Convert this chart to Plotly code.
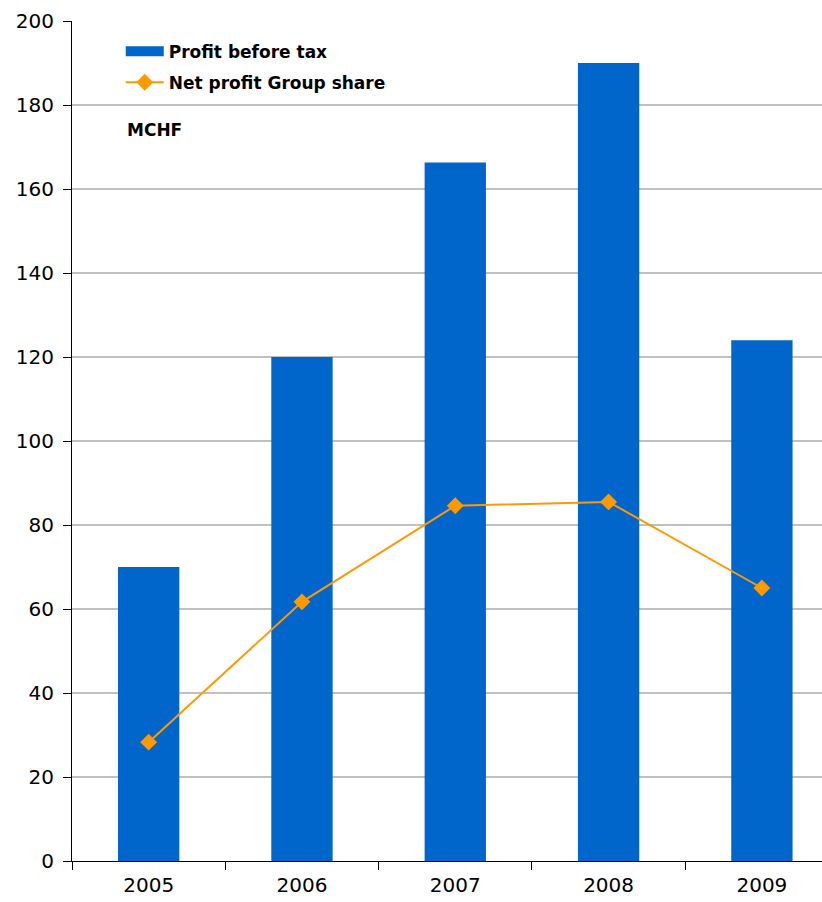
import plotly.graph_objects as go

years = ["2005", "2006", "2007", "2008", "2009"]
profit_before_tax = [70, 120, 166.3, 190, 124]
net_profit_group = [28.3, 61.7, 84.6, 85.5, 65]

FONT = "DejaVu Sans, Verdana, sans-serif"
BLUE = "#0066CC"
ORANGE = "#FF9900"

fig = go.Figure()
fig.add_trace(go.Bar(
    x=years, y=profit_before_tax, name="Profit before tax",
    marker=dict(color=BLUE, line=dict(width=0)), width=0.4,
    showlegend=False, legendgroup="a",
))
# legend-only entry so the key shows a wide bar swatch
fig.add_trace(go.Scatter(
    x=[None], y=[None], name="Profit before tax", mode="lines",
    line=dict(color=BLUE, width=13), legendgroup="a",
))
fig.add_trace(go.Scatter(
    x=years, y=net_profit_group, name="Net profit Group share",
    mode="lines+markers", legendgroup="b",
    line=dict(color=ORANGE, width=2),
    marker=dict(symbol="diamond", size=13, color=ORANGE),
))

fig.update_layout(
    width=822, height=902,
    margin=dict(l=72, r=0, t=21, b=41),
    plot_bgcolor="white", paper_bgcolor="white",
    font=dict(family=FONT, size=20, color="black"),
    showlegend=True,
    legend=dict(
        x=0.065, y=0.985, xanchor="left", yanchor="top",
        bgcolor="rgba(0,0,0,0)",
        font=dict(family=FONT, size=17, color="black", weight="bold"),
        itemwidth=38, tracegroupgap=6,
    ),
    xaxis=dict(
        type="category", range=[-0.5, 4.392],
        showline=True, linecolor="black", linewidth=1,
        ticks="outside", tickson="boundaries", ticklen=8, tickcolor="black",
        showgrid=False, tickfont=dict(size=20), ticklabelstandoff=6,
    ),
    yaxis=dict(
        range=[0, 200], dtick=20, tick0=0,
        showline=True, linecolor="black", linewidth=1,
        ticks="outside", ticklen=8, tickcolor="black",
        showgrid=True, gridcolor="#C0C0C0", gridwidth=2,
        zeroline=False, tickfont=dict(size=20), ticklabelstandoff=5,
    ),
    annotations=[dict(
        text="<b>MCHF</b>", xref="paper", yref="paper",
        x=0.07, y=0.87, xanchor="left", yanchor="middle",
        showarrow=False, font=dict(family=FONT, size=17, color="black"),
    )],
)

fig.write_html("out.html")
